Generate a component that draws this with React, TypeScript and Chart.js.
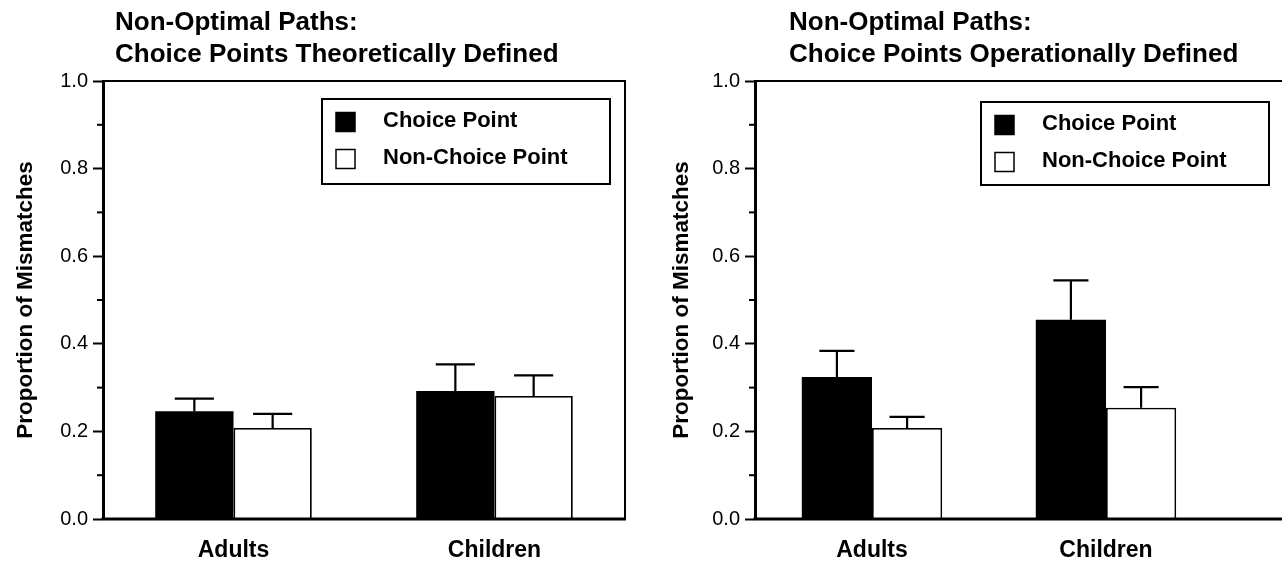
import React, { useEffect, useRef } from 'react';
import { Chart, registerables } from 'chart.js';

Chart.register(...registerables);

const FONT = "'Liberation Sans', Arial, Helvetica, sans-serif";

const categories = ['Adults', 'Children'];
const seriesNames = ['Choice Point', 'Non-Choice Point'];

const theoChoice = [0.246, 0.292];
const theoChoiceErr = [0.029, 0.061];
const theoNonChoice = [0.208, 0.281];
const theoNonChoiceErr = [0.032, 0.047];

const operChoice = [0.324, 0.455];
const operChoiceErr = [0.06, 0.09];
const operNonChoice = [0.208, 0.254];
const operNonChoiceErr = [0.025, 0.047];

const titleTheo = ['Non-Optimal Paths:', 'Choice Points Theoretically Defined'];
const titleOper = ['Non-Optimal Paths:', 'Choice Points Operationally Defined'];
const yTitle = 'Proportion of Mismatches';

const errorBarPlugin = {
  id: 'errorBars',
  afterDatasetsDraw(chart: any) {
    const { ctx } = chart;
    const ys = chart.scales.y;
    chart.data.datasets.forEach((ds: any, di: number) => {
      const errs = ds.errors;
      if (!errs) return;
      const meta = chart.getDatasetMeta(di);
      meta.data.forEach((bar: any, i: number) => {
        const { x, y, width } = bar.getProps(['x', 'y', 'width'], true);
        const top = ys.getPixelForValue(ds.data[i] + errs[i]);
        ctx.save();
        ctx.strokeStyle = '#000';
        ctx.lineWidth = 2.2;
        ctx.beginPath();
        ctx.moveTo(x, y);
        ctx.lineTo(x, top);
        ctx.moveTo(x - width / 4, top);
        ctx.lineTo(x + width / 4, top);
        ctx.stroke();
        ctx.restore();
      });
    });
  },
};

const framePlugin = {
  id: 'frame',
  afterDatasetsDraw(chart: any, _args: any, opts: any) {
    const { ctx, chartArea: ca } = chart;
    const right = opts.right != null ? opts.right : ca.right;
    ctx.save();
    ctx.strokeStyle = '#000';
    ctx.lineWidth = 2;
    ctx.beginPath();
    ctx.moveTo(ca.left, ca.top);
    ctx.lineTo(right, ca.top);
    if (opts.closed) ctx.lineTo(right, ca.bottom);
    ctx.stroke();
    ctx.lineWidth = 3;
    ctx.beginPath();
    ctx.moveTo(ca.left - 1.5, ca.bottom);
    ctx.lineTo(right + (opts.closed ? 1 : 0), ca.bottom);
    ctx.stroke();
    const ys = chart.scales.y;
    const ticks = ys.ticks;
    ctx.lineWidth = 2;
    for (let i = 0; i < ticks.length - 1; i++) {
      const v = (ticks[i].value + ticks[i + 1].value) / 2;
      const py = ys.getPixelForValue(v);
      ctx.beginPath();
      ctx.moveTo(ca.left - 6, py);
      ctx.lineTo(ca.left, py);
      ctx.stroke();
    }
    ctx.restore();
  },
};

const boxLegendPlugin = {
  id: 'boxLegend',
  afterDraw(chart: any, _args: any, opts: any) {
    const { ctx } = chart;
    const { x, y, w, h } = opts;
    ctx.save();
    ctx.fillStyle = '#fff';
    ctx.fillRect(x, y, w, h);
    ctx.strokeStyle = '#000';
    ctx.lineWidth = 2;
    ctx.strokeRect(x, y, w, h);
    ctx.font = `bold 22px ${FONT}`;
    ctx.textBaseline = 'middle';
    ctx.textAlign = 'left';
    chart.data.datasets.forEach((ds: any, i: number) => {
      const cy = y + 22 + i * 37;
      const s = 19;
      const sx = x + 14;
      ctx.fillStyle = ds.backgroundColor;
      ctx.fillRect(sx, cy + 1 - s / 2, s, s);
      ctx.strokeStyle = '#000';
      ctx.lineWidth = 1.5;
      ctx.strokeRect(sx, cy + 1 - s / 2, s, s);
      ctx.fillStyle = '#000';
      ctx.fillText(ds.label, x + 61, cy);
    });
    ctx.restore();
  },
};

const panelTitlePlugin = {
  id: 'panelTitle',
  afterDraw(chart: any, _args: any, opts: any) {
    const { ctx } = chart;
    ctx.save();
    ctx.fillStyle = '#000';
    ctx.font = `bold 26px ${FONT}`;
    ctx.textBaseline = 'alphabetic';
    ctx.textAlign = 'left';
    (opts.lines || []).forEach((t: string, i: number) => {
      ctx.fillText(t, opts.x, opts.y + i * 32);
    });
    ctx.restore();
  },
};

type PanelProps = {
  title: string[];
  titleX: number;
  choice: number[];
  choiceErr: number[];
  non: number[];
  nonErr: number[];
  axisWidth: number;
  yTitlePad: number;
  padRight: number;
  frameRight: number | null;
  closed: boolean;
  legend: { x: number; y: number; w: number; h: number };
};

function BarPanel(p: PanelProps) {
  const ref = useRef<HTMLCanvasElement>(null);
  useEffect(() => {
    const chart = new Chart(ref.current as HTMLCanvasElement, {
      type: 'bar',
      data: {
        labels: categories,
        datasets: [
          {
            label: seriesNames[0],
            data: p.choice,
            errors: p.choiceErr,
            backgroundColor: '#000',
            borderColor: '#000',
            borderWidth: 0,
          } as any,
          {
            label: seriesNames[1],
            data: p.non,
            errors: p.nonErr,
            backgroundColor: '#fff',
            borderColor: '#000',
            borderWidth: 1.8,
          } as any,
        ],
      },
      options: {
        animation: false,
        responsive: false,
        maintainAspectRatio: false,
        devicePixelRatio: 1,
        categoryPercentage: 0.6,
        barPercentage: 1.0,
        layout: { padding: { left: 0, right: p.padRight, top: 81, bottom: 0 } },
        plugins: {
          legend: { display: false },
          tooltip: { enabled: false },
          title: { display: false },
          panelTitle: { lines: p.title, x: p.titleX, y: 30 },
          frame: { right: p.frameRight, closed: p.closed },
          boxLegend: p.legend,
        } as any,
        scales: {
          x: {
            grid: { display: false, drawTicks: false },
            border: { display: false },
            ticks: { color: '#000', font: { family: FONT, size: 23, weight: 'bold' }, padding: 18 },
            afterFit: (s: any) => {
              s.height = 48;
            },
          },
          y: {
            min: 0,
            max: 1,
            ticks: {
              stepSize: 0.2,
              color: '#000',
              font: { family: FONT, size: 20 },
              padding: 5,
              callback: (v: any) => Number(v).toFixed(1),
            },
            grid: { drawOnChartArea: false, drawTicks: true, tickLength: 10, tickWidth: 2, color: '#000' },
            border: { display: true, color: '#000', width: 3 },
            title: {
              display: true,
              text: yTitle,
              color: '#000',
              font: { family: FONT, size: 22.5, weight: 'bold' },
              padding: { top: p.yTitlePad, bottom: 0 },
            },
            afterFit: (s: any) => {
              s.width = p.axisWidth;
            },
          },
        },
      },
      plugins: [errorBarPlugin, framePlugin, boxLegendPlugin, panelTitlePlugin],
    } as any);
    return () => chart.destroy();
  }, []);
  return <canvas ref={ref} width={641} height={567} style={{ display: 'block' }} />;
}

export default function App() {
  return (
    <div style={{ position: 'absolute', left: 0, top: 0, width: 1282, height: 567, display: 'flex', background: '#fff' }}>
      <BarPanel
        title={titleTheo}
        titleX={115}
        choice={theoChoice}
        choiceErr={theoChoiceErr}
        non={theoNonChoice}
        nonErr={theoNonChoiceErr}
        axisWidth={103}
        yTitlePad={12}
        padRight={16}
        frameRight={null}
        closed={true}
        legend={{ x: 322, y: 99, w: 288, h: 85 }}
      />
      <BarPanel
        title={titleOper}
        titleX={148}
        choice={operChoice}
        choiceErr={operChoiceErr}
        non={operNonChoice}
        nonErr={operNonChoiceErr}
        axisWidth={114}
        yTitlePad={27}
        padRight={59}
        frameRight={645}
        closed={false}
        legend={{ x: 340, y: 102, w: 288, h: 83 }}
      />
    </div>
  );
}
